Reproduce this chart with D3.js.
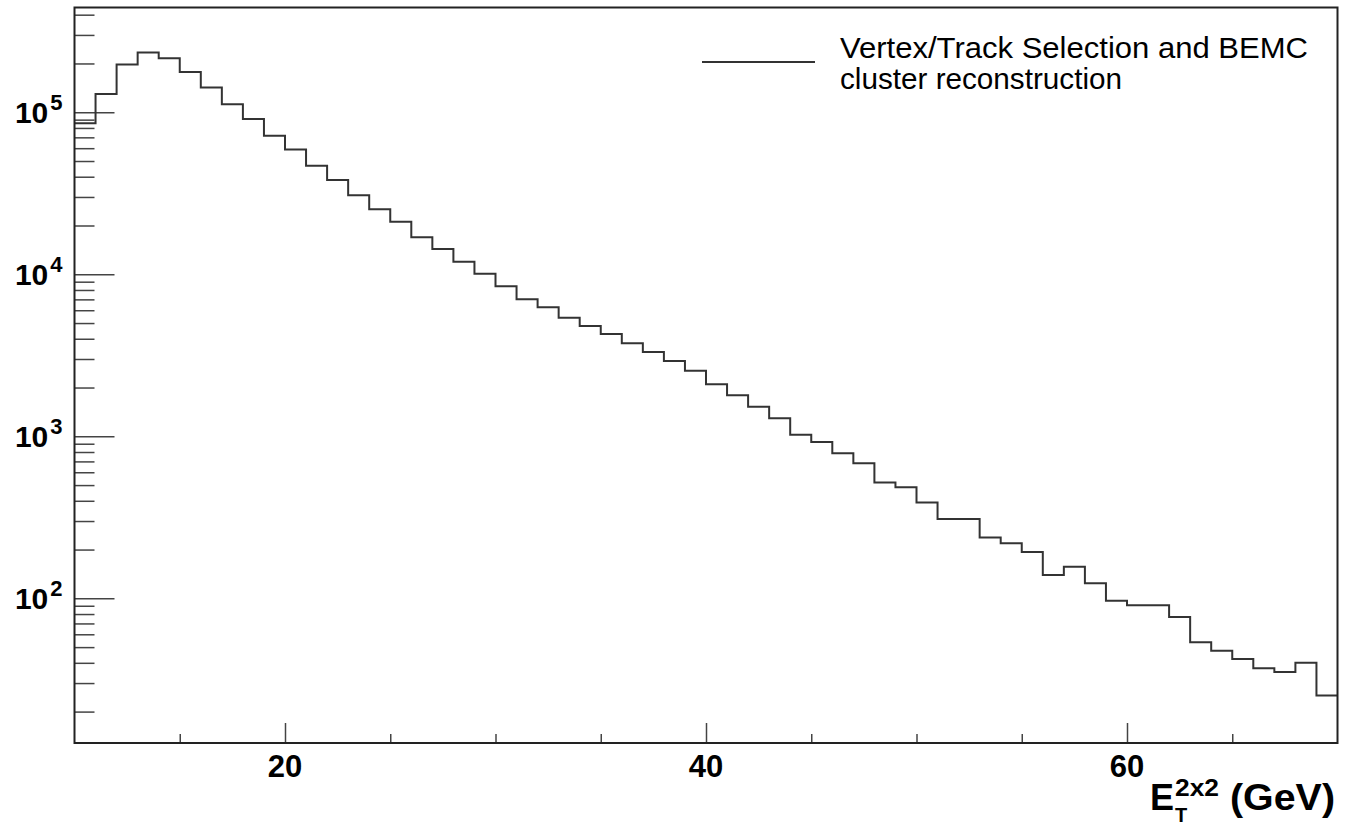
<!DOCTYPE html>
<html>
<head>
<meta charset="utf-8">
<script src="https://cdn.jsdelivr.net/npm/d3@7"></script>
<style>
  body { margin: 0; background: #fff; }
  svg { display: block; }
  text { font-family: "Liberation Sans", Arial, Helvetica, sans-serif; }
</style>
</head>
<body>
<svg id="chart"></svg>
<script>
// histogram: 1 GeV bins from 10 to 70 GeV
const binStart = 10;
const binWidth = 1;
const counts = [
  85500, 129700, 196800, 233300, 215400, 177400, 141900, 112000, 90900, 71700,
  58800, 46800, 38200, 30700, 25200, 21100, 16900, 14300, 11960, 10090,
  8430, 7010, 6250, 5400, 4800, 4280, 3750, 3310, 2915, 2540,
  2095, 1790, 1523, 1291, 1023, 922, 785, 681, 519, 484,
  391, 309, 309, 237, 218.6, 193, 139.2, 156.7, 123.8, 96.6,
  90.7, 90.7, 76.7, 53.5, 47.5, 42.2, 37.0, 35.1, 40.0, 25.1
];

const xRange = [10, 70];
const yRange = [12.8, 443000];
const xMajorTicks = [20, 40, 60];
const xMinorTicks = [15, 25, 30, 35, 45, 50, 55, 65];
const yMajorTicks = [1e2, 1e3, 1e4, 1e5];
const yMinorMult = [2, 3, 4, 5, 6, 7, 8, 9];
const yDecades = [1e1, 1e2, 1e3, 1e4, 1e5];
const legendLabel = ["Vertex/Track Selection and BEMC", "cluster reconstruction"];
const legendWidth = [468, 282];

const W = 1345, H = 828;
const margin = {top: 7.5, right: 7.5, bottom: 85, left: 74.5};
const innerW = W - margin.left - margin.right;
const innerH = H - margin.top - margin.bottom;

const svg = d3.select('#chart').attr('width', W).attr('height', H);
const chart = svg.append('g')
    .attr('transform', `translate(${margin.left}, ${margin.top})`);

const xscale = d3.scaleLinear().domain(xRange).range([0, innerW]);
const yscale = d3.scaleLog().domain(yRange).range([innerH, 0]);

// y ticks (drawn inside the frame)
const yMinorTicks = [];
yDecades.forEach(d => yMinorMult.forEach(m => {
    const v = d * m;
    if (v > yRange[0] && v < yRange[1]) yMinorTicks.push(v);
}));

const yMinorAxis = d3.axisRight(yscale).tickValues(yMinorTicks).tickSize(20).tickFormat('');
const yMajorAxis = d3.axisRight(yscale).tickValues(yMajorTicks).tickSize(40).tickFormat('');
[yMinorAxis, yMajorAxis].forEach(ax => {
    const g = chart.append('g').call(ax);
    g.select('.domain').remove();
    g.selectAll('line').attr('stroke', '#444').attr('stroke-width', 1.5);
});

yMajorTicks.forEach(v => {
    const t = chart.append('text')
        .attr('x', -12)
        .attr('y', yscale(v) + 11)
        .attr('text-anchor', 'end')
        .attr('font-weight', 'bold')
        .attr('font-size', 30)
        .attr('fill', '#000');
    t.append('tspan').text('10');
    t.append('tspan').attr('font-size', 22).attr('dx', 2).attr('dy', -13).text(Math.round(Math.log10(v)));
});

// x ticks
const xMinorAxis = d3.axisTop(xscale).tickValues(xMinorTicks).tickSize(9).tickFormat('');
const xMajorAxis = d3.axisTop(xscale).tickValues(xMajorTicks).tickSize(20).tickFormat('');
[xMinorAxis, xMajorAxis].forEach(ax => {
    const g = chart.append('g').attr('transform', `translate(0, ${innerH})`).call(ax);
    g.select('.domain').remove();
    g.selectAll('line').attr('stroke', '#444').attr('stroke-width', 1.5);
});

chart.selectAll('.xlabel')
    .data(xMajorTicks)
    .enter()
    .append('text')
    .attr('class', 'xlabel')
    .attr('x', d => xscale(d))
    .attr('y', innerH + 34)
    .attr('text-anchor', 'middle')
    .attr('font-weight', 'bold')
    .attr('font-size', 31)
    .attr('fill', '#000')
    .text(d => d);

// axis title E_T^{2x2} (GeV)
const title = svg.append('g')
    .attr('font-weight', 'bold')
    .attr('fill', '#000');
title.append('text').attr('x', 1150).attr('y', 810).attr('font-size', 36).text('E');
title.append('text').attr('x', 1175).attr('y', 822).attr('font-size', 20).text('T');
title.append('text').attr('x', 1175).attr('y', 796).attr('font-size', 23)
    .attr('textLength', 44).attr('lengthAdjust', 'spacingAndGlyphs').text('2x2');
title.append('text').attr('x', 1230).attr('y', 810).attr('font-size', 37)
    .attr('textLength', 105).attr('lengthAdjust', 'spacingAndGlyphs').text('(GeV)');

// histogram outline
const edges = counts.map((c, i) => ({x: binStart + i * binWidth, y: c}));
edges.push({x: binStart + counts.length * binWidth, y: counts[counts.length - 1]});

const line = d3.line()
    .x(d => xscale(d.x))
    .y(d => yscale(d.y))
    .curve(d3.curveStepAfter);

chart.append('path')
    .datum(edges)
    .attr('d', line)
    .attr('fill', 'none')
    .attr('stroke', '#333')
    .attr('stroke-width', 2);

// frame
chart.append('rect')
    .attr('width', innerW)
    .attr('height', innerH)
    .attr('fill', 'none')
    .attr('stroke', '#222')
    .attr('stroke-width', 2);

// legend
const legend = svg.append('g');
legend.append('line')
    .attr('x1', 702).attr('x2', 815)
    .attr('y1', 62).attr('y2', 62)
    .attr('stroke', '#333')
    .attr('stroke-width', 2);
legend.selectAll('text')
    .data(legendLabel)
    .enter()
    .append('text')
    .attr('x', 840)
    .attr('y', (d, i) => 58 + i * 31)
    .attr('font-size', 29)
    .attr('textLength', (d, i) => legendWidth[i])
    .attr('lengthAdjust', 'spacingAndGlyphs')
    .attr('fill', '#000')
    .text(d => d);
</script>
</body>
</html>
